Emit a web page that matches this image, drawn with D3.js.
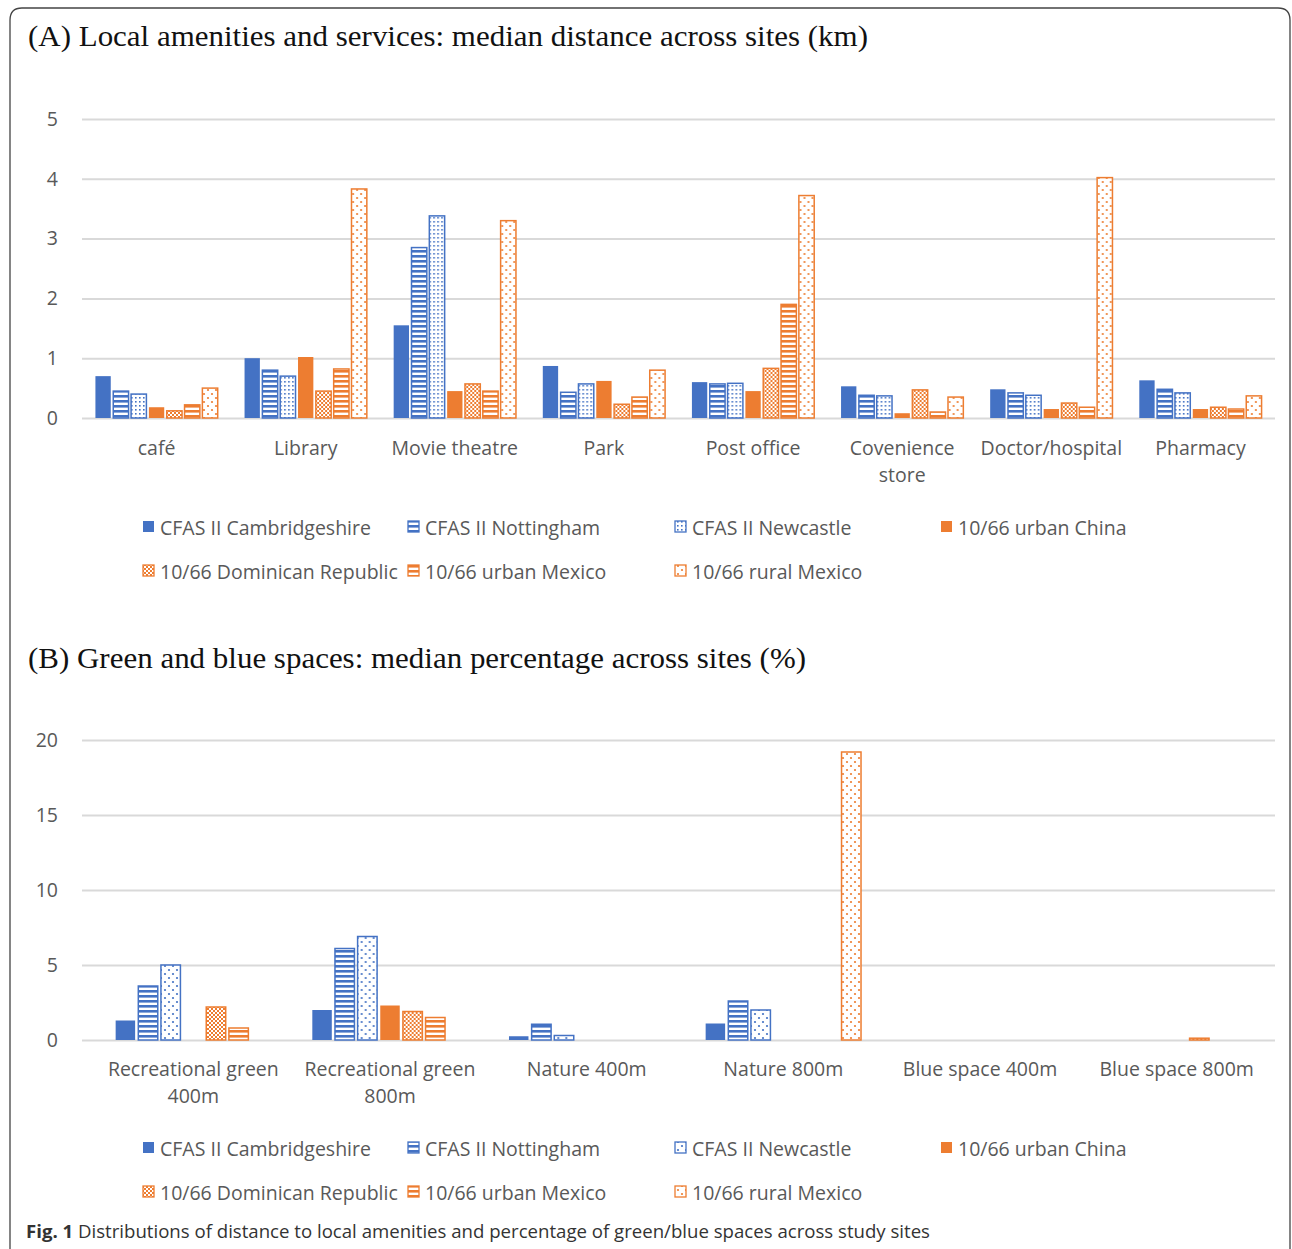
<!DOCTYPE html>
<html>
<head>
<meta charset="utf-8">
<script src="https://cdnjs.cloudflare.com/ajax/libs/d3/7.8.5/d3.min.js"></script>
<style>
  body { margin: 0; background: #fff; }
  svg text { font-family: "Open Sans", sans-serif; }
</style>
</head>
<body>
<svg id="fig" width="1292" height="1249"></svg>
<script>
// series (same for both panels)
var seriesNames = ["CFAS II Cambridgeshire", "CFAS II Nottingham", "CFAS II Newcastle",
  "10/66 urban China", "10/66 Dominican Republic", "10/66 urban Mexico", "10/66 rural Mexico"];

// panel A: median distance (km)
var amenityCats = [["café"], ["Library"], ["Movie theatre"], ["Park"], ["Post office"],
  ["Covenience", "store"], ["Doctor/hospital"], ["Pharmacy"]];
var amenityValues = [
  [0.70, 0.45, 0.40, 0.18, 0.12, 0.22, 0.50],
  [1.00, 0.80, 0.70, 1.02, 0.45, 0.82, 3.83],
  [1.55, 2.85, 3.38, 0.45, 0.57, 0.45, 3.30],
  [0.87, 0.43, 0.57, 0.62, 0.23, 0.35, 0.80],
  [0.60, 0.57, 0.58, 0.45, 0.83, 1.90, 3.72],
  [0.53, 0.38, 0.37, 0.08, 0.47, 0.10, 0.35],
  [0.48, 0.42, 0.38, 0.15, 0.25, 0.18, 4.02],
  [0.63, 0.48, 0.42, 0.15, 0.18, 0.15, 0.37]
];
var amenityTicks = [0, 1, 2, 3, 4, 5];

// panel B: median percentage (%)
var greenCats = [["Recreational green", "400m"], ["Recreational green", "800m"], ["Nature 400m"],
  ["Nature 800m"], ["Blue space 400m"], ["Blue space 800m"]];
var greenValues = [
  [1.3, 3.6, 5.0, 0, 2.2, 0.8, 0],
  [2.0, 6.1, 6.9, 2.3, 1.9, 1.5, 0],
  [0.25, 1.05, 0.3, 0, 0, 0, 0],
  [1.1, 2.6, 2.0, 0, 0, 0, 19.2],
  [0, 0, 0, 0, 0, 0, 0],
  [0, 0, 0, 0, 0.12, 0, 0]
];
var greenTicks = [0, 5, 10, 15, 20];

var BLUE = "#4472C4", ORANGE = "#ED7D31";
var seriesColor = [BLUE, BLUE, BLUE, ORANGE, ORANGE, ORANGE, ORANGE];
var fillsA = ["solid", "hlines", "dots", "solid", "checks", "hlines", "sparse"];
var fillsB = ["solid", "hlines", "sparse", "solid", "checks", "hlines", "sparse"];

var svg = d3.select("#fig");
var defs = svg.append("defs");

// patterns
[["blue", BLUE], ["orange", ORANGE]].forEach(function(c) {
  var p = defs.append("pattern").attr("id", "hlines-" + c[0]).attr("patternUnits", "userSpaceOnUse")
    .attr("width", 6).attr("height", 5);
  p.append("rect").attr("width", 6).attr("height", 5).attr("fill", "#fff");
  p.append("rect").attr("y", 0).attr("width", 6).attr("height", 2.6).attr("fill", c[1]);

  p = defs.append("pattern").attr("id", "dots-" + c[0]).attr("patternUnits", "userSpaceOnUse")
    .attr("width", 4).attr("height", 4);
  p.append("rect").attr("width", 4).attr("height", 4).attr("fill", "#fff");
  p.append("rect").attr("x", 1).attr("y", 1).attr("width", 1.6).attr("height", 1.6).attr("fill", c[1]);

  p = defs.append("pattern").attr("id", "sparse-" + c[0]).attr("patternUnits", "userSpaceOnUse")
    .attr("width", 8).attr("height", 8);
  p.append("rect").attr("width", 8).attr("height", 8).attr("fill", "#fff");
  p.append("circle").attr("cx", 2).attr("cy", 2).attr("r", 1.1).attr("fill", c[1]);
  p.append("circle").attr("cx", 6).attr("cy", 6).attr("r", 1.1).attr("fill", c[1]);

  p = defs.append("pattern").attr("id", "checks-" + c[0]).attr("patternUnits", "userSpaceOnUse")
    .attr("width", 4).attr("height", 4);
  p.append("rect").attr("width", 4).attr("height", 4).attr("fill", "#fff");
  p.append("rect").attr("width", 2).attr("height", 2).attr("fill", c[1]);
  p.append("rect").attr("x", 2).attr("y", 2).attr("width", 2).attr("height", 2).attr("fill", c[1]);
});

function fillFor(fills, i) {
  if (fills[i] == "solid") return seriesColor[i];
  return "url(#" + fills[i] + "-" + (seriesColor[i] == BLUE ? "blue" : "orange") + ")";
}

// frame
svg.append("path")
  .attr("d", "M10,1249 L10,20 Q10,8 22,8 L1278,8 Q1290,8 1290,20 L1290,1249")
  .attr("fill", "none").attr("stroke", "#444").attr("stroke-width", 1.3);

function panel(opt) {
  var g = svg.append("g");
  g.append("text").attr("x", 28).attr("y", opt.titleY).text(opt.title)
    .attr("textLength", opt.titleLen).attr("lengthAdjust", "spacingAndGlyphs")
    .style("font-family", "'Liberation Serif', 'Times New Roman', serif")
    .style("font-size", "29px").attr("fill", "#111");

  var y = d3.scaleLinear().domain([0, opt.max]).range([opt.y0, opt.yTop]);
  var x0 = d3.scaleBand().domain(d3.range(opt.cats.length)).range([opt.xStart, 1275]);
  var groupW = x0.bandwidth() * opt.groupFrac;
  var x1 = d3.scaleBand().domain(d3.range(seriesNames.length))
    .range([(x0.bandwidth() - groupW) / 2, (x0.bandwidth() + groupW) / 2]).paddingInner(0.14);

  var ax = g.append("g").attr("transform", "translate(82,0)")
    .call(d3.axisLeft(y).tickValues(opt.ticks).tickSize(-1193).tickFormat(d3.format("d")));
  ax.select(".domain").remove();
  ax.selectAll("line").attr("stroke", "#d9d9d9").attr("stroke-width", 2);
  ax.selectAll("text").attr("x", -24).attr("fill", "#595959").style("font-size", "19.5px")
    .style("font-family", "'Open Sans', sans-serif");

  var grp = g.selectAll(".cat").data(opt.values).enter().append("g")
    .attr("transform", function(d, i) { return "translate(" + x0(i) + ",0)"; });
  grp.selectAll("rect")
    .data(function(d) { return d.map(function(v, i) { return { v: v, i: i }; }).filter(function(e) { return e.v > 0; }); })
    .enter().append("rect")
    .attr("x", function(d) { return x1(d.i); })
    .attr("y", function(d) { return y(d.v); })
    .attr("width", x1.bandwidth())
    .attr("height", function(d) { return opt.y0 - y(d.v); })
    .attr("fill", function(d) { return fillFor(opt.fills, d.i); })
    .attr("stroke", function(d) { return opt.fills[d.i] == "solid" ? "none" : seriesColor[d.i]; })
    .attr("stroke-width", 1.5);

  // category labels
  opt.cats.forEach(function(lines, i) {
    var t = g.append("text").attr("text-anchor", "middle").attr("fill", "#595959")
      .style("font-size", "19.5px");
    lines.forEach(function(l, k) {
      t.append("tspan").attr("x", x0(i) + x0.bandwidth() / 2).attr("y", opt.labelY + k * 27).text(l);
    });
  });

  // legend
  var lx = [143, 408, 675, 941];
  seriesNames.forEach(function(name, i) {
    var cx = lx[i < 4 ? i : i - 4], cy = i < 4 ? opt.legY : opt.legY + 44;
    g.append("rect").attr("x", cx).attr("y", cy - 14).attr("width", 11).attr("height", 11)
      .attr("fill", fillFor(opt.fills, i))
      .attr("stroke", opt.fills[i] == "solid" ? "none" : seriesColor[i]).attr("stroke-width", 1.3);
    g.append("text").attr("x", cx + 17).attr("y", cy).attr("fill", "#595959")
      .style("font-size", "19.5px").text(name);
  });
}

panel({ title: "(A) Local amenities and services: median distance across sites (km)", titleY: 46, titleLen: 840,
  cats: amenityCats, values: amenityValues, ticks: amenityTicks, max: 5, fills: fillsA, xStart: 82,
  y0: 418, yTop: 119, groupFrac: 0.82, labelY: 455, legY: 535 });

panel({ title: "(B) Green and blue spaces: median percentage across sites (%)", titleY: 668, titleLen: 778,
  cats: greenCats, values: greenValues, ticks: greenTicks, max: 20, fills: fillsB, xStart: 95,
  y0: 1040, yTop: 740, groupFrac: 0.79, labelY: 1076, legY: 1156 });

// caption
var cap = svg.append("text").attr("x", 26).attr("y", 1238).attr("fill", "#333").style("font-size", "18.5px")
  .attr("textLength", 904).attr("lengthAdjust", "spacingAndGlyphs");
cap.append("tspan").style("font-weight", "bold").text("Fig. 1");
cap.append("tspan").text(" Distributions of distance to local amenities and percentage of green/blue spaces across study sites");
</script>
</body>
</html>
